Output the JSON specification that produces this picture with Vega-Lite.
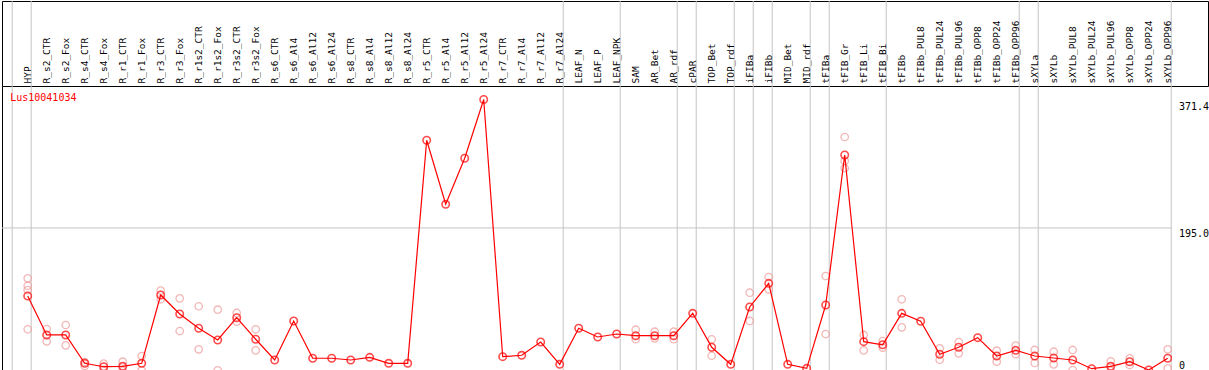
{
  "$schema": "https://vega.github.io/schema/vega-lite/v6.json",
  "padding": {"left": 1, "top": 0, "right": 0, "bottom": 1},
  "spacing": 0,
  "bounds": "flush",
  "config": {
    "view": {"stroke": null},
    "font": "DejaVu Sans Mono",
    "axisX": {"labels": false, "ticks": false, "grid": false, "domain": true, "domainColor": "black", "domainWidth": 1, "title": null}
  },
  "datasets": {
    "cols": [
      {"i": 1, "name": "HYP", "mean": 101.6},
      {"i": 2, "name": "R_s2_CTR", "mean": 48.1},
      {"i": 3, "name": "R_s2_Fox", "mean": 48.1},
      {"i": 4, "name": "R_s4_CTR", "mean": 9.2},
      {"i": 5, "name": "R_s4_Fox", "mean": 4.5},
      {"i": 6, "name": "R_r1_CTR", "mean": 5.1},
      {"i": 7, "name": "R_r1_Fox", "mean": 9.2},
      {"i": 8, "name": "R_r3_CTR", "mean": 103},
      {"i": 9, "name": "R_r3_Fox", "mean": 76.9},
      {"i": 10, "name": "R_r1s2_CTR", "mean": 57.3},
      {"i": 11, "name": "R_r1s2_Fox", "mean": 41.2},
      {"i": 12, "name": "R_r3s2_CTR", "mean": 71.8},
      {"i": 13, "name": "R_r3s2_Fox", "mean": 42.2},
      {"i": 14, "name": "R_s6_CTR", "mean": 13.7},
      {"i": 15, "name": "R_s6_Al4", "mean": 67.3},
      {"i": 16, "name": "R_s6_Al12", "mean": 16.1},
      {"i": 17, "name": "R_s6_Al24", "mean": 16.1},
      {"i": 18, "name": "R_s8_CTR", "mean": 13.7},
      {"i": 19, "name": "R_s8_Al4", "mean": 17.4},
      {"i": 20, "name": "R_s8_Al12", "mean": 9.2},
      {"i": 21, "name": "R_s8_Al24", "mean": 9.2},
      {"i": 22, "name": "R_r5_CTR", "mean": 315.4},
      {"i": 23, "name": "R_r5_Al4", "mean": 227.5},
      {"i": 24, "name": "R_r5_Al12", "mean": 290.7},
      {"i": 25, "name": "R_r5_Al24", "mean": 371.4},
      {"i": 26, "name": "R_r7_CTR", "mean": 18.3},
      {"i": 27, "name": "R_r7_Al4", "mean": 20.2},
      {"i": 28, "name": "R_r7_Al12", "mean": 38.4},
      {"i": 29, "name": "R_r7_Al24", "mean": 7.8},
      {"i": 30, "name": "LEAF_N", "mean": 57.3},
      {"i": 31, "name": "LEAF_P", "mean": 45.3},
      {"i": 32, "name": "LEAF_NPK", "mean": 49.4},
      {"i": 33, "name": "SAM", "mean": 47.1},
      {"i": 34, "name": "AR_Bet", "mean": 47.1},
      {"i": 35, "name": "AR_rdf", "mean": 47.1},
      {"i": 36, "name": "cPAR", "mean": 77.8},
      {"i": 37, "name": "TOP_Bet", "mean": 31.2},
      {"i": 38, "name": "TOP_rdf", "mean": 7.8},
      {"i": 39, "name": "iFIBa", "mean": 86.5},
      {"i": 40, "name": "iFIBb", "mean": 119},
      {"i": 41, "name": "MID_Bet", "mean": 7.8},
      {"i": 42, "name": "MID_rdf", "mean": 2.3},
      {"i": 43, "name": "tFIBa", "mean": 89.2},
      {"i": 44, "name": "tFIB_Gr", "mean": 295.2},
      {"i": 45, "name": "tFIB_Li", "mean": 38.9},
      {"i": 46, "name": "tFIB_Bi", "mean": 34.7},
      {"i": 47, "name": "tFIBb", "mean": 77.8},
      {"i": 48, "name": "tFIBb_PUL8", "mean": 66.9},
      {"i": 49, "name": "tFIBb_PUL24", "mean": 21.6},
      {"i": 50, "name": "tFIBb_PUL96", "mean": 31.2},
      {"i": 51, "name": "tFIBb_OPP8", "mean": 44.4},
      {"i": 52, "name": "tFIBb_OPP24", "mean": 19.2},
      {"i": 53, "name": "tFIBb_OPP96", "mean": 27},
      {"i": 54, "name": "sXYLa", "mean": 19.2},
      {"i": 55, "name": "sXYLb", "mean": 16.5},
      {"i": 56, "name": "sXYLb_PUL8", "mean": 13.7},
      {"i": 57, "name": "sXYLb_PUL24", "mean": 1.8},
      {"i": 58, "name": "sXYLb_PUL96", "mean": 5.1},
      {"i": 59, "name": "sXYLb_OPP8", "mean": 11.4},
      {"i": 60, "name": "sXYLb_OPP24", "mean": 0},
      {"i": 61, "name": "sXYLb_OPP96", "mean": 16.1}
    ],
    "reps": [
      {"i": 1, "v": 125.9}, {"i": 1, "v": 115.7}, {"i": 1, "v": 109.8}, {"i": 1, "v": 55.9},
      {"i": 2, "v": 56.3}, {"i": 2, "v": 39.4},
      {"i": 3, "v": 61.8}, {"i": 3, "v": 33.9},
      {"i": 4, "v": 11}, {"i": 4, "v": 5.5},
      {"i": 5, "v": 8.7}, {"i": 5, "v": 0.3},
      {"i": 6, "v": 11.4}, {"i": 6, "v": -1},
      {"i": 7, "v": 19.2}, {"i": 7, "v": -0.4},
      {"i": 8, "v": 108.9}, {"i": 8, "v": 97.1},
      {"i": 9, "v": 98.4}, {"i": 9, "v": 53.5},
      {"i": 10, "v": 87.5}, {"i": 10, "v": 28.4},
      {"i": 11, "v": 82.8}, {"i": 11, "v": -0.4},
      {"i": 12, "v": 78.3}, {"i": 12, "v": 66.3},
      {"i": 13, "v": 55.9}, {"i": 13, "v": 27},
      {"i": 33, "v": 55.3}, {"i": 33, "v": 42.2},
      {"i": 34, "v": 52.6}, {"i": 34, "v": 43.5},
      {"i": 35, "v": 52.6}, {"i": 35, "v": 42.2},
      {"i": 37, "v": 42.2}, {"i": 37, "v": 19.6},
      {"i": 39, "v": 106.1}, {"i": 39, "v": 67.3},
      {"i": 40, "v": 127.7}, {"i": 40, "v": 110.8},
      {"i": 43, "v": 129}, {"i": 43, "v": 49.4},
      {"i": 44, "v": 319.9}, {"i": 44, "v": 287}, {"i": 44, "v": 277},
      {"i": 45, "v": 48.1}, {"i": 45, "v": 27},
      {"i": 46, "v": 39.8}, {"i": 46, "v": 30.6},
      {"i": 47, "v": 97.1}, {"i": 47, "v": 58.6},
      {"i": 49, "v": 29.8}, {"i": 49, "v": 14.1},
      {"i": 50, "v": 38.4}, {"i": 50, "v": 22.9},
      {"i": 52, "v": 26.5}, {"i": 52, "v": 11.4},
      {"i": 53, "v": 33.4}, {"i": 53, "v": 21.6},
      {"i": 54, "v": 27.5}, {"i": 54, "v": 9.6},
      {"i": 55, "v": 25.1}, {"i": 55, "v": 7.8},
      {"i": 56, "v": 27.5}, {"i": 56, "v": 0},
      {"i": 58, "v": 12}, {"i": 58, "v": -1},
      {"i": 59, "v": 16.1}, {"i": 59, "v": 6.9},
      {"i": 61, "v": 28.4}, {"i": 61, "v": 2.3}
    ],
    "seps": [
      {"after": 0}, {"after": 1}, {"after": 29}, {"after": 32}, {"after": 35},
      {"after": 36}, {"after": 38}, {"after": 39}, {"after": 40}, {"after": 42},
      {"after": 43}, {"after": 46}, {"after": 53}, {"after": 54}, {"after": 61}
    ]
  },
  "vconcat": [
    {
      "width": 1206,
      "height": 85,
      "view": {"stroke": "black", "strokeWidth": 1},
      "layer": [
        {
          "data": {"name": "seps"},
          "mark": {"type": "rule", "color": "#c4c4c4", "strokeWidth": 1, "xOffset": 3.5},
          "encoding": {
            "x": {"field": "after", "type": "quantitative", "scale": {"domain": [-0.3526, 63.12], "nice": false, "zero": false}, "axis": null}
          }
        },
        {
          "data": {"name": "cols"},
          "mark": {"type": "text", "angle": 270, "align": "left", "baseline": "middle", "fontSize": 9.5, "dx": 2.5, "font": "DejaVu Sans Mono", "color": "black"},
          "encoding": {
            "x": {"field": "i", "type": "quantitative", "axis": null},
            "y": {"datum": 0, "type": "quantitative", "scale": {"domain": [0, 1]}, "axis": null},
            "text": {"field": "name", "type": "nominal"}
          }
        }
      ]
    },
    {
      "width": 1170,
      "height": 284,
      "resolve": {"scale": {"y": "shared", "x": "shared"}, "axis": {"y": "independent"}},
      "layer": [
        {
          "data": {"name": "seps"},
          "mark": {"type": "rule", "color": "#c4c4c4", "strokeWidth": 1, "xOffset": 3.5},
          "encoding": {
            "x": {"field": "after", "type": "quantitative", "scale": {"domain": [-0.3526, 61.226], "nice": false, "zero": false}, "title": null}
          }
        },
        {
          "data": {"values": [{"g": 195}]},
          "mark": {"type": "rule", "color": "#c4c4c4", "strokeWidth": 1},
          "encoding": {
            "y": {"field": "g", "type": "quantitative", "scale": {"domain": [0, 389.9], "nice": false, "zero": false}, "axis": null}
          }
        },
        {
          "data": {"name": "reps"},
          "mark": {"type": "point", "shape": "circle", "filled": false, "color": "#ef9a9a", "strokeWidth": 1.3, "size": 55, "clip": true},
          "encoding": {
            "x": {"field": "i", "type": "quantitative", "title": null},
            "y": {"field": "v", "type": "quantitative", "title": null,
              "axis": {"orient": "left", "labels": false, "ticks": false, "grid": false, "domain": true, "domainColor": "black", "title": null}}
          }
        },
        {
          "data": {"name": "cols"},
          "mark": {"type": "line", "color": "#ff0000", "strokeWidth": 1.2, "clip": true},
          "encoding": {
            "x": {"field": "i", "type": "quantitative", "title": null},
            "y": {"field": "mean", "type": "quantitative", "title": null,
              "axis": {
                "orient": "right", "values": [0, 195, 371.4], "grid": false, "domain": false, "ticks": false, "tickSize": 0,
                "labelPadding": 6.5, "labelFont": "DejaVu Sans Mono", "labelFontSize": 10, "labelColor": "black",
                "labelOverlap": false, "labelBound": false, "labelFlush": false, "title": null,
                "labelExpr": "datum.value == 0 ? '0' : format(datum.value, '.1f')",
                "labelBaseline": {"condition": {"test": "datum.value == 0", "value": "bottom"}, "value": "top"},
                "labelOffset": {"condition": {"test": "datum.value > 300", "value": 2.5}, "value": 0.5}
              }}
          }
        },
        {
          "data": {"name": "cols"},
          "mark": {"type": "point", "shape": "circle", "filled": false, "color": "#ff0000", "strokeWidth": 1.6, "size": 55, "clip": true},
          "encoding": {
            "x": {"field": "i", "type": "quantitative", "title": null},
            "y": {"field": "mean", "type": "quantitative", "axis": null}
          }
        },
        {
          "data": {"values": [{"label": "Lus10041034"}]},
          "mark": {"type": "text", "align": "left", "baseline": "alphabetic", "fontSize": 10, "font": "DejaVu Sans Mono", "color": "#ff0000"},
          "encoding": {
            "x": {"datum": 0.08, "type": "quantitative"},
            "y": {"datum": 369, "type": "quantitative", "axis": null},
            "text": {"field": "label", "type": "nominal"}
          }
        }
      ]
    }
  ]
}
